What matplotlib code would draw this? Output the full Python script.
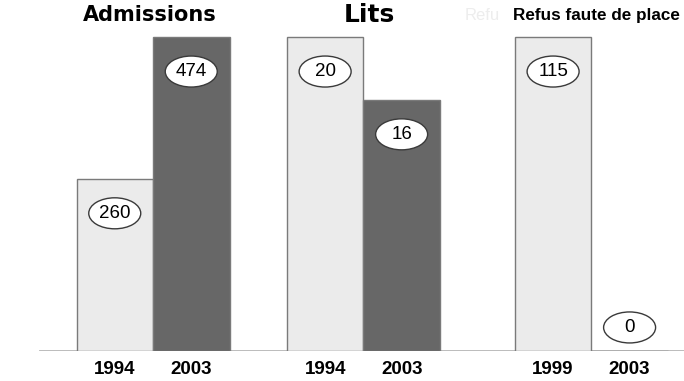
import matplotlib.pyplot as plt
from matplotlib.patches import Ellipse

groups = ['Admissions', 'Lits', 'Refus faute de place']
years = [['1994', '2003'], ['1994', '2003'], ['1999', '2003']]
values = [[260, 474], [20, 16], [115, 0]]

light = '#ebebeb'
dark = '#676767'
px_x = 76.5   # pixels per x unit
px_y = 314    # pixels per y unit

fig = plt.figure(figsize=(6.84, 3.81), dpi=100)
ax = fig.add_axes([0, 30 / 381, 1, 351 / 381])
ax.set_xlim(0, 684 / px_x)
ax.set_ylim(0, 351 / px_y)
for s in ax.spines.values():
    s.set_visible(False)
ax.set_yticks([])

starts = [1.5, 4.25, 7.23]
ticks, labels = [], []
for g, (start, yrs, vals) in enumerate(zip(starts, years, values)):
    top = max(vals)
    for i, (yr, v) in enumerate(zip(yrs, vals)):
        h = v / top
        x = start + i
        ax.bar(x, h, width=1.0, color=[light, dark][i],
               edgecolor='#7a7a7a', linewidth=1.0, zorder=2)
        ly = h - 0.11 if v > 0 else 0.075
        ax.add_patch(Ellipse((x, ly), 52 / px_x, 31 / px_y, fc='white',
                             ec='#3a3a3a', lw=1.0, zorder=3))
        ax.text(x, ly, str(v), ha='center', va='center', fontsize=13.5,
                family='Liberation Sans', zorder=4)
        ticks.append(x)
        labels.append(yr)

ax.axhline(0, xmin=40 / 684, xmax=1, color='#b5b5b5', lw=2, zorder=1)

ax.set_xticks(ticks)
ax.set_xticklabels(labels, fontsize=13.5, fontweight='bold',
                   family='Liberation Sans')
ax.tick_params(axis='x', length=0, pad=7)

# group titles above the bars
ty = 1.07
ax.text(150 / px_x, ty, 'Admissions', ha='center', va='center',
        fontsize=15, fontweight='heavy', family='DejaVu Sans')
ax.text(369 / px_x, ty, 'Lits', ha='center', va='center',
        fontsize=18, fontweight='heavy', family='DejaVu Sans')
ax.text(482 / px_x, ty, 'Refu', ha='center', va='center',
        fontsize=12, color='#ededed', family='Liberation Sans')
ax.text(596 / px_x, ty, 'Refus faute de place', ha='center', va='center',
        fontsize=12.3, family='Liberation Sans', fontweight='bold')

fig.savefig('out.png', dpi=100)
